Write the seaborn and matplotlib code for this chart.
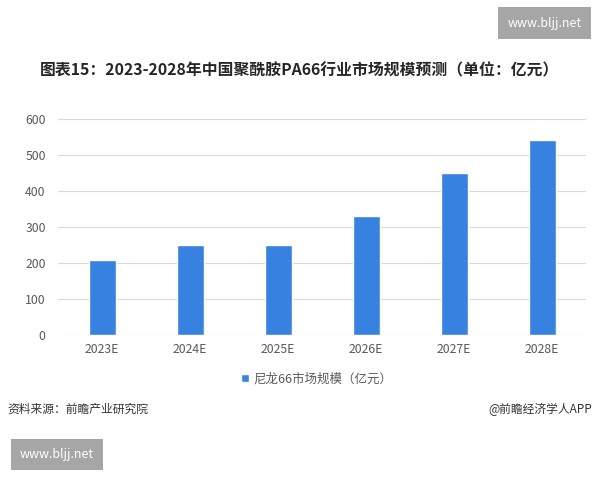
import matplotlib
matplotlib.use("Agg")
import matplotlib.pyplot as plt
import seaborn as sns
import pandas as pd

# data
years = ["2023E", "2024E", "2025E", "2026E", "2027E", "2028E"]
market_size = [209, 249, 251, 332, 450, 542]
series_name = "尼龙66市场规模（亿元）"
title_text = "图表15：2023-2028年中国聚酰胺PA66行业市场规模预测（单位：亿元）"
source_text = "资料来源：前瞻产业研究院"
credit_text = "@前瞻经济学人APP"
yticks = [0, 100, 200, 300, 400, 500, 600]

bar_color = "#3782e0"
tick_color = "#595959"

sns.set_theme(style="white")
plt.rcParams["font.family"] = ["Noto Sans CJK SC", "DejaVu Sans"]

df = pd.DataFrame({"year": years, "value": market_size})

fig = plt.figure(figsize=(6, 4.8), dpi=100)
ax = fig.add_axes([0.097, 0.302, 0.88, 0.45])

sns.barplot(data=df, x="year", y="value", color=bar_color, width=0.31,
            saturation=1, ax=ax, label=series_name, zorder=3)

ax.set_ylim(0, 600)
ax.set_yticks(yticks)
ax.set_xlim(-0.5, len(years) - 0.5)
ax.yaxis.grid(True, color="#d9d9d9", linewidth=0.8, zorder=0)
for s in ax.spines.values():
    s.set_visible(False)
ax.set_xlabel("")
ax.set_ylabel("")
ax.tick_params(axis="both", length=0, labelsize=8.8, labelcolor=tick_color)
ax.tick_params(axis="y", pad=9)
ax.tick_params(axis="x", pad=6)

leg = ax.legend(loc="upper center", bbox_to_anchor=(0.49, -0.12), frameon=False,
                fontsize=9, handlelength=0.6, handleheight=0.6, handletextpad=0.4)
for t in leg.get_texts():
    t.set_color(tick_color)

fig.text(0.5, 0.853, title_text, ha="center", va="center", fontsize=11.4,
         fontweight="bold", color="#262626")
fig.text(0.013, 0.148, source_text, ha="left", va="center", fontsize=8.5, color="#333333")
fig.text(0.987, 0.148, credit_text, ha="right", va="center", fontsize=8.5, color="#333333")

# site stamps
fig.text(0.908, 0.952, "www.bljj.net", ha="center", va="center", fontsize=9, color="white",
         bbox=dict(boxstyle="square,pad=0.75", facecolor="#a6a6a6", edgecolor="none"))
fig.text(0.095, 0.053, "www.bljj.net", ha="center", va="center", fontsize=9, color="white",
         bbox=dict(boxstyle="square,pad=0.75", facecolor="#a6a6a6", edgecolor="none"))

fig.savefig("out.png", dpi=100, facecolor="white")
